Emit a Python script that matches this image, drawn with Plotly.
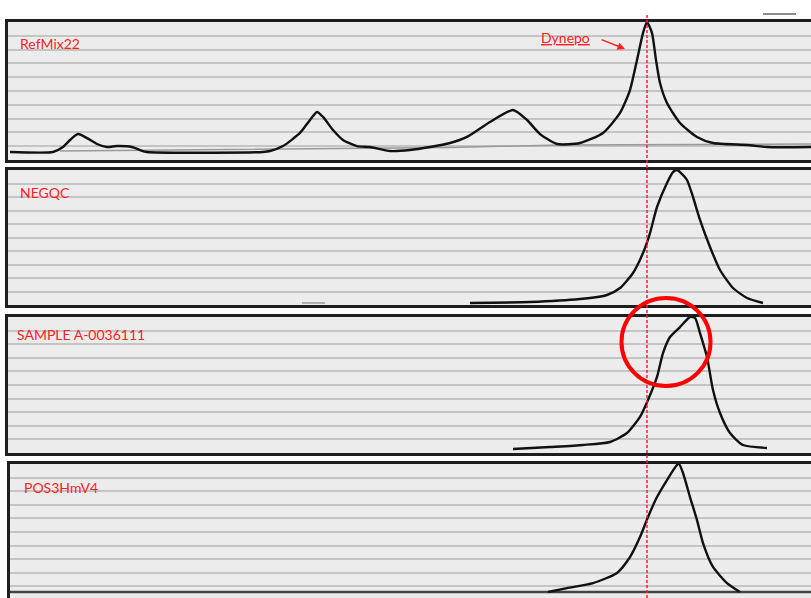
import plotly.graph_objects as go

W, H = 811, 598

# ---------------- data (signal in % of panel height, x = migration position) -------------
panel_labels = ["RefMix22", "NEGQC", "SAMPLE A-0036111", "POS3HmV4"]

refmix_x = [10, 53, 63, 70, 78, 87, 97, 107, 117, 132, 140, 147, 263, 270, 283, 300, 310, 317,
            323, 333, 343, 357, 370, 390, 410, 430, 450, 467, 490, 513, 527, 540, 557, 580,
            603, 620, 630, 637, 643, 647, 652, 656, 660, 667, 680, 697, 713, 747, 767, 811]
refmix_y = [5.8, 5.8, 9.4, 14.5, 18.8, 15.9, 11.6, 9.4, 10.1, 9.4, 7.2, 5.8, 5.8, 6.5, 10.1,
            19.6, 29.0, 34.8, 31.2, 21.7, 14.5, 10.1, 9.4, 6.5, 7.2, 9.4, 12.3, 16.7, 27.5,
            36.2, 29.0, 18.8, 11.6, 12.3, 19.6, 34.1, 50.7, 72.5, 92.0, 100, 92.0, 72.5, 55.8,
            41.3, 26.8, 16.7, 12.3, 10.9, 9.4, 9.4]
refmix_base_x = [60, 300, 450, 560, 811]
refmix_base_y = [6.5, 8.0, 9.1, 10.9, 11.6]

negqc_x = [470, 530, 580, 607, 620, 633, 643, 650, 657, 667, 673, 677, 680, 687, 693, 700, 710,
           720, 733, 747, 763]
negqc_y = [1.5, 2.2, 4.4, 7.4, 12.6, 23.7, 38.5, 53.3, 72.6, 90.4, 98.5, 100, 98.5, 92.6, 80.0,
           63.0, 43.0, 25.9, 12.6, 5.2, 1.5]
negqc_base_x = [302, 325]
negqc_base_y = [1.5, 1.5]

sample_x = [513, 550, 583, 610, 627, 640, 648, 657, 663, 670, 680, 690, 695, 700, 707, 713, 720,
            730, 743, 767]
sample_y = [2.9, 4.4, 5.9, 8.1, 14.7, 26.5, 39.0, 55.9, 73.5, 85.3, 92.6, 100, 99.3, 88.2, 70.6,
            46.3, 29.4, 14.7, 5.9, 3.7]

pos_x = [548, 567, 593, 617, 630, 640, 648, 657, 667, 677, 679, 683, 690, 697, 703, 713, 727, 740]
pos_y = [5.9, 8.8, 12.5, 19.9, 31.6, 46.3, 61.0, 75.7, 88.2, 99.3, 100, 93.4, 75.7, 58.8, 41.9,
         24.3, 12.5, 5.9]
pos_base_x = [10, 811]
pos_base_y = [5.9, 5.9]

dynepo_x = 647

# ---------------- layout helpers -------------
def py(p):
    return 1 - p / H

panel_px = [(22, 160), (170, 305), (317, 453), (464, 598)]
panel_left = [8, 8, 8, 10]
y_ranges = [[0, 100], [0, 100], [0, 100], [1.5, 100]]

fig = go.Figure()

series = [
    (refmix_x, refmix_y, refmix_base_x, refmix_base_y),
    (negqc_x, negqc_y, negqc_base_x, negqc_base_y),
    (sample_x, sample_y, None, None),
    (pos_x, pos_y, pos_base_x, pos_base_y),
]

for i, (sx, sy, bx, by) in enumerate(series):
    n = "" if i == 0 else str(i + 1)
    if bx is not None:
        fig.add_trace(go.Scatter(x=bx, y=by, mode="lines", xaxis="x" + n, yaxis="y" + n,
                                 line=dict(color="#444444" if i == 3 else "#9a9a9a",
                                           width=2.5 if i == 3 else 1.5),
                                 showlegend=False, hoverinfo="skip"))
    fig.add_trace(go.Scatter(x=sx, y=sy, mode="lines", xaxis="x" + n, yaxis="y" + n,
                             line=dict(color="#111111", width=2.4, shape="spline", smoothing=0.6),
                             showlegend=False, name=panel_labels[i]))

layout = dict(width=W, height=H, margin=dict(l=0, r=0, t=0, b=0), autosize=False,
              paper_bgcolor="white", plot_bgcolor="#ececec", showlegend=False)

for i, ((top, bot), left) in enumerate(zip(panel_px, panel_left)):
    n = "" if i == 0 else str(i + 1)
    layout["xaxis" + n] = dict(domain=[left / W, 1], range=[left, W], showticklabels=False,
                               showgrid=False, zeroline=False, ticks="",
                               showline=True, mirror=True, linecolor="#1e1e1e", linewidth=3,
                               anchor="y" + n)
    layout["yaxis" + n] = dict(domain=[max(0, py(bot)), py(top)], range=y_ranges[i],
                               showticklabels=False, ticks="", zeroline=False,
                               showgrid=True, gridcolor="#c4c4c4", gridwidth=2,
                               tick0=0, dtick=10,
                               showline=True, mirror=False, linecolor="#1e1e1e", linewidth=3,
                               anchor="x" + n)
fig.update_layout(**layout)

# dashed reference line through all panels
fig.add_shape(type="line", xref="x", yref="paper", x0=dynepo_x, x1=dynepo_x,
              y0=0, y1=py(15), line=dict(color="#ff2020", width=1.5, dash="3px,2px"))

# red circle highlighting sample peak
fig.add_shape(type="circle", xref="x", yref="paper", x0=621.5, x1=710.5,
              y0=py(386), y1=py(298), line=dict(color="#ff0000", width=4))

# small grey line at top right
fig.add_shape(type="line", xref="paper", yref="paper", x0=763 / W, x1=796 / W,
              y0=py(14), y1=py(14), line=dict(color="#8c8c8c", width=2))

label_pos = [(18, 44), (18, 192), (15, 334), (22, 487)]
for lab, (lx, ly) in zip(panel_labels, label_pos):
    fig.add_annotation(text=lab, xref="paper", yref="paper", x=lx / W, y=py(ly),
                       xanchor="left", yanchor="middle", showarrow=False,
                       font=dict(family="Lato, Open Sans, sans-serif", size=14, color="#ff2020"))

fig.add_annotation(text="<u>Dynepo</u>", xref="paper", yref="paper", x=539 / W, y=py(38),
                   xanchor="left", yanchor="middle", showarrow=False,
                   font=dict(family="Lato, Open Sans, sans-serif", size=14, color="#ff2020"))
fig.add_annotation(text="", xref="x", yref="paper", x=625, y=py(49), ax=-25, ay=-10,
                   showarrow=True, arrowhead=2, arrowsize=1, arrowwidth=1.5,
                   arrowcolor="#ff2020")

fig.write_html("out.html", config={"displayModeBar": False},
               post_script="document.body.style.margin='0';document.body.style.overflow='hidden';")
